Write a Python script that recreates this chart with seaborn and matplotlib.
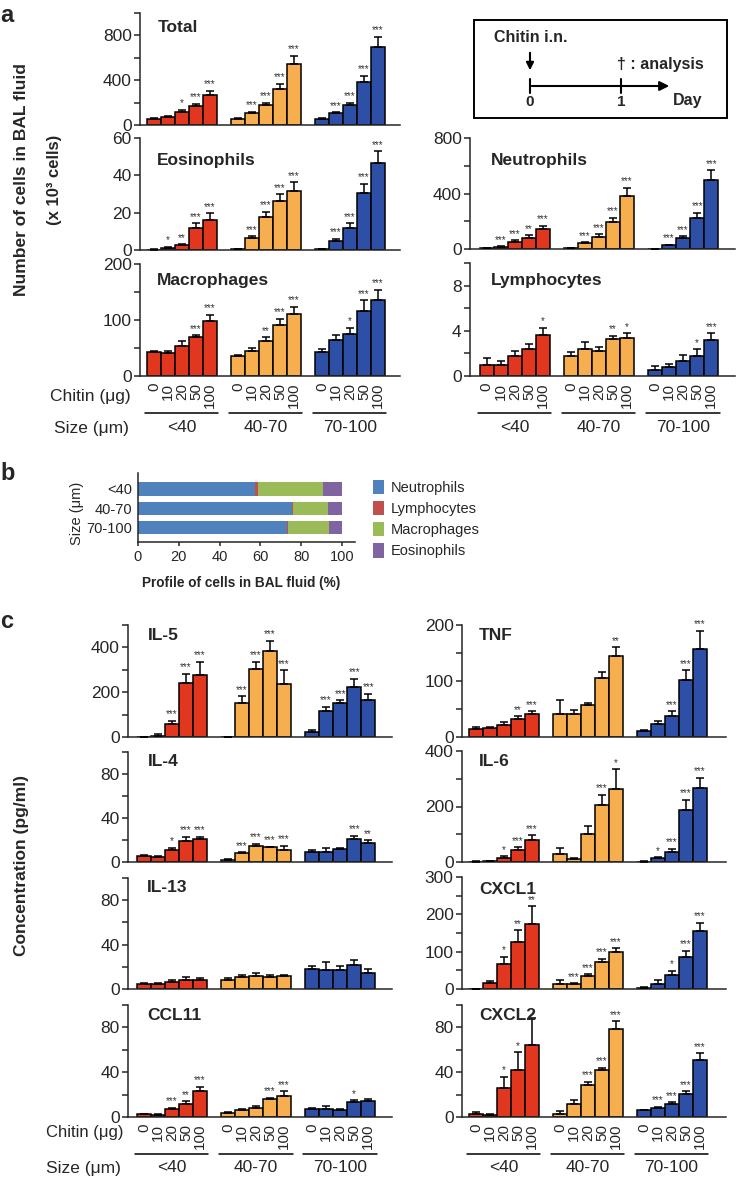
import numpy as np
import pandas as pd
import matplotlib
matplotlib.use("Agg")
import matplotlib.pyplot as plt
from matplotlib.patches import Patch, Rectangle
import seaborn as sns

sizes = ["<40", "40-70", "70-100"]
doses = ["0", "10", "20", "50", "100"]
size_colors = ["#E1371F", "#F6AE4E", "#2D4FA5"]

# ---- a: number of cells in BAL fluid (x 10^3), rows = size groups
total_mean = [[53, 74, 115, 172, 272], [56, 107, 178, 323, 542], [56, 104, 181, 382, 699]]
total_sem = [[6, 4, 22, 18, 34], [6, 11, 20, 47, 77], [9, 9, 17, 59, 89]]
total_sig = [["", "", "*", "***", "***"], ["", "***", "***", "***", "***"], ["", "***", "***", "***", "***"]]

eos_mean = [[0.2, 1.2, 2.5, 12, 16.3], [0.3, 6.5, 17.6, 26, 31.5], [0.3, 5, 11.8, 30.5, 46.8]]
eos_sem = [[0.1, 0.6, 0.7, 2.3, 3.4], [0.1, 1.0, 3.0, 3.9, 4.9], [0.1, 1.0, 2.5, 5.0, 6.2]]
eos_sig = [["", "*", "**", "***", "***"], ["", "***", "***", "***", "***"], ["", "***", "***", "***", "***"]]

mac_mean = [[42, 41, 54, 69, 98], [36, 44, 62, 91, 110], [42, 65, 75, 116, 136]]
mac_sem = [[3, 4, 9, 4, 11], [2, 6, 7, 11, 14], [6, 9, 11, 19, 18]]
mac_sig = [["", "", "", "***", "***"], ["", "", "**", "***", "***"], ["", "", "*", "***", "***"]]

neu_mean = [[7, 16, 47, 82, 147], [5, 44, 86, 196, 380], [2, 28, 82, 221, 496]]
neu_sem = [[2, 3, 18, 16, 21], [2, 5, 19, 28, 63], [1, 4, 9, 42, 70]]
neu_sig = [["", "***", "***", "**", "***"], ["", "***", "***", "***", "***"], ["", "***", "***", "***", "***"]]

lym_mean = [[0.95, 0.95, 1.76, 2.35, 3.63], [1.79, 2.35, 2.23, 3.24, 3.33], [0.57, 0.8, 1.34, 1.79, 3.15]]
lym_sem = [[0.6, 0.4, 0.47, 0.45, 0.66], [0.35, 0.69, 0.36, 0.33, 0.45], [0.29, 0.3, 0.51, 0.56, 0.63]]
lym_sig = [["", "", "", "", "*"], ["", "", "", "**", "*"], ["", "", "", "*", "***"]]

# ---- b: profile of cells (%)
cell_types = ["Neutrophils", "Lymphocytes", "Macrophages", "Eosinophils"]
cell_colors = ["#4F81BD", "#C0504D", "#9BBB59", "#8064A2"]
neu_pct = [57.4, 75.3, 73.2]
lym_pct = [1.3, 0.5, 0.5]
mac_pct = [32.1, 17.5, 19.9]
eos_pct = [9.2, 6.7, 6.4]

# ---- c: concentration (pg/ml)
il5_mean = [[0, 6, 60, 243, 276], [0, 154, 303, 385, 237], [22, 117, 151, 225, 165]]
il5_sem = [[0, 9, 12, 39, 60], [0, 29, 34, 45, 60], [11, 18, 12, 36, 28]]
il5_sig = [["", "", "***", "***", "***"], ["", "***", "***", "***", "***"], ["", "***", "***", "***", "***"]]

il4_mean = [[5.1, 4.5, 10.5, 19.2, 20.7], [2, 8, 15, 13.5, 11], [9, 9, 11.7, 20.7, 17.7]]
il4_sem = [[0.9, 1.2, 2.5, 3.8, 2.3], [0.5, 1.0, 1.5, 0.5, 3.7], [1.5, 3.6, 0.6, 3.3, 2.3]]
il4_sig = [["", "", "*", "***", "***"], ["", "***", "***", "***", "***"], ["", "", "", "***", "**"]]

il13_mean = [[4.5, 4.5, 6.3, 8.4, 8.4], [7.8, 10.7, 12, 10.7, 11.3], [18.2, 17.3, 17.3, 22, 14.3]]
il13_sem = [[1.2, 0.9, 1.5, 2.3, 1.5], [1.8, 2.1, 2.3, 2.1, 0.9], [2.8, 6.7, 3.7, 4, 3.7]]
il13_sig = [["", "", "", "", ""], ["", "", "", "", ""], ["", "", "", "", ""]]

ccl11_mean = [[2.4, 2.1, 7.2, 11.3, 23], [3.6, 6, 8.4, 15.8, 18.8], [7.2, 6.9, 6.6, 13.1, 14]]
ccl11_sem = [[0.5, 0.5, 1.2, 3, 3.9], [0.9, 1.5, 1.5, 1.5, 4.2], [0.8, 2.7, 0.9, 1.8, 2.4]]
ccl11_sig = [["", "", "***", "**", "***"], ["", "", "", "***", "***"], ["", "", "", "*", ""]]

tnf_mean = [[15, 16, 22, 32, 41], [41, 41, 57, 105, 144], [10, 23, 38, 102, 158]]
tnf_sem = [[3, 2.5, 5, 5, 5], [25, 7, 4, 11, 16], [2, 6, 8, 17, 32]]
tnf_sig = [["", "", "", "**", "***"], ["", "", "", "", "**"], ["", "", "***", "***", "***"]]

il6_mean = [[1, 2, 16, 44, 80], [29, 11, 101, 206, 262], [1, 14, 36, 188, 266]]
il6_sem = [[1, 2, 4, 9, 16], [21, 3, 29, 36, 73], [1, 4, 11, 36, 38]]
il6_sig = [["", "", "*", "***", "***"], ["", "", "", "***", "*"], ["", "*", "***", "***", "***"]]

cxcl1_mean = [[1, 16, 67, 126, 175], [14, 14, 34, 73, 99], [3, 13, 38, 87, 156]]
cxcl1_sem = [[0, 6, 19, 32, 47], [9, 2, 6, 8, 10], [1.5, 12, 11, 16, 22]]
cxcl1_sig = [["", "", "*", "**", "**"], ["", "***", "***", "***", "***"], ["", "", "*", "***", "***"]]

cxcl2_mean = [[3, 1.5, 26, 42, 64], [3, 12, 29, 42, 79], [6, 8.4, 12, 20.3, 51]]
cxcl2_sem = [[1.2, 0.9, 10, 16, 24], [2.4, 3.5, 2.3, 1.9, 6.7], [0.6, 0.6, 1, 2.7, 5.7]]
cxcl2_sig = [["", "", "*", "*", ""], ["", "", "***", "***", "***"], ["", "***", "***", "***", "***"]]


sns.set_style("ticks")
plt.rcParams["font.family"] = ["Liberation Sans", "DejaVu Sans"]
plt.rcParams["axes.linewidth"] = 1.1

W, H = 736, 1180
fig = plt.figure(figsize=(W / 100, H / 100), dpi=100)

# overlay in pixel coordinates for labels and the schematic
ov = fig.add_axes([0, 0, 1, 1], zorder=5)
ov.set_xlim(0, W)
ov.set_ylim(H, 0)
ov.axis("off")


def px_axes(x0, y0, x1, y1):
    return fig.add_axes([x0 / W, 1 - y1 / H, (x1 - x0) / W, (y1 - y0) / H])


def bar_panel(box, xlim, mean, sem, sig, ymax, ystep, labelled, title, title_xy, doses_below=False):
    ax = px_axes(*box)
    rows = []
    for g, size in enumerate(sizes):
        for i in range(len(doses)):
            rows.append({"pos": g * 6 + i, "value": mean[g][i], "sem": sem[g][i],
                         "sig": sig[g][i], "size": size})
    df = pd.DataFrame(rows)
    sns.barplot(data=df, x="pos", y="value", hue="size", hue_order=sizes,
                palette=dict(zip(sizes, size_colors)), native_scale=True, dodge=False,
                width=1.0, saturation=1, errorbar=None, edgecolor="black",
                linewidth=1.1, legend=False, ax=ax)
    ax.errorbar(df["pos"], df["value"], yerr=[np.zeros(len(df)), df["sem"]], fmt="none",
                ecolor="black", elinewidth=1.1, capsize=3, capthick=1.1, zorder=3)
    for _, r in df.iterrows():
        if r["sig"]:
            ax.annotate(r["sig"], (r["pos"], r["value"] + r["sem"]), xytext=(0, 1),
                        textcoords="offset points", ha="center", va="bottom",
                        fontsize=7, color="#333333")
    ax.set_xlim(*xlim)
    ax.set_ylim(0, ymax)
    ticks = np.arange(0, ymax + ystep / 2, ystep)
    ax.set_yticks(ticks)
    ax.set_yticklabels([f"{t:g}" if t in labelled else "" for t in ticks], fontsize=12.5)
    ax.tick_params(axis="y", length=4, width=1.1, pad=2)
    if doses_below:
        ax.set_xticks(df["pos"])
        ax.set_xticklabels(doses * 3, rotation=90, fontsize=11)
        ax.tick_params(axis="x", length=0, pad=5)
    else:
        ax.set_xticks([])
    ax.set_xlabel("")
    ax.set_ylabel("")
    sns.despine(ax=ax)
    ov.text(title_xy[0], title_xy[1], title, fontsize=12.5, fontweight="bold", ha="left", va="center")
    return ax


def group_labels(box, xlim, line_y, text_y):
    scale = (box[2] - box[0]) / (xlim[1] - xlim[0])
    for g, size in enumerate(sizes):
        xa = box[0] + (g * 6 - 0.65 - xlim[0]) * scale
        xb = box[0] + (g * 6 + 4.6 - xlim[0]) * scale
        ov.plot([xa, xb], [line_y, line_y], color="black", lw=1.1)
        ov.text((xa + xb) / 2, text_y, size, fontsize=12.5, ha="center", va="center")


# ---------------- panel a
xl_aL = (-1.0, 17.57)
xl_aR = (-1.2, 17.7)
bar_panel((140, 13, 400, 125), xl_aL, total_mean, total_sem, total_sig, 1000, 200, [0, 400, 800], "Total", (158, 27))
bar_panel((140, 138, 400, 250), xl_aL, eos_mean, eos_sem, eos_sig, 60, 20, [0, 20, 40, 60], "Eosinophils", (157, 160))
bar_panel((140, 264, 400, 376), xl_aL, mac_mean, mac_sem, mac_sig, 200, 50, [0, 100, 200], "Macrophages", (157, 280), True)
bar_panel((470, 138, 735, 249), xl_aR, neu_mean, neu_sem, neu_sig, 800, 200, [0, 400, 800], "Neutrophils", (491, 160))
bar_panel((470, 263, 735, 376), xl_aR, lym_mean, lym_sem, lym_sig, 10, 2, [0, 4, 8], "Lymphocytes", (491, 281), True)
group_labels((140, 264, 400, 376), xl_aL, 413, 428)
group_labels((470, 263, 735, 376), xl_aR, 413, 428)
ov.text(131, 397, "Chitin (\u03bcg)", fontsize=12.5, ha="right", va="center")
ov.text(129, 428, "Size (\u03bcm)", fontsize=12.5, ha="right", va="center")
ov.text(22, 180, "Number of cells in BAL fluid", fontsize=12.5, fontweight="bold",
        rotation=90, ha="center", va="center")
ov.text(54, 180, "(x 10\u00b3 cells)", fontsize=12, fontweight="bold",
        rotation=90, ha="center", va="center")

# schematic
ov.add_patch(Rectangle((474, 20), 253, 98, fill=False, lw=1.4, ec="black"))
ov.text(494, 38, "Chitin i.n.", fontsize=11.5, fontweight="bold", ha="left", va="center")
ov.annotate("", xy=(530, 73), xytext=(530, 50),
            arrowprops=dict(arrowstyle="-|>", lw=1.5, color="black", mutation_scale=11))
ov.annotate("", xy=(672, 86), xytext=(529, 86),
            arrowprops=dict(arrowstyle="-|>", lw=1.5, color="black", mutation_scale=14))
ov.plot([530, 530], [79, 93], color="black", lw=1.5)
ov.plot([621, 621], [79, 93], color="black", lw=1.5)
ov.text(530, 102, "0", fontsize=11, fontweight="bold", ha="center", va="center")
ov.text(621, 102, "1", fontsize=11, fontweight="bold", ha="center", va="center")
ov.text(688, 101, "Day", fontsize=11.5, fontweight="bold", ha="center", va="center")
ov.text(617, 65, "\u2020 : analysis", fontsize=11.5, fontweight="bold", ha="left", va="center")

# ---------------- panel b
ax_b = px_axes(138, 473, 355, 542)
cum = np.cumsum([neu_pct, lym_pct, mac_pct, eos_pct], axis=0)
for k in reversed(range(len(cell_types))):
    dfb = pd.DataFrame({"size": sizes, "pct": cum[k]})
    sns.barplot(data=dfb, x="pct", y="size", order=sizes, orient="h", color=cell_colors[k],
                saturation=1, width=0.7, errorbar=None, linewidth=0, ax=ax_b)
ax_b.set_xlim(0, 106.4)
ax_b.set_ylim(2.75, -0.83)
ax_b.set_xticks(np.arange(0, 101, 20))
ax_b.set_xticklabels([f"{v}" for v in range(0, 101, 20)], fontsize=10.5)
ax_b.set_yticks(range(3))
ax_b.set_yticklabels(sizes, fontsize=10.5)
ax_b.tick_params(axis="y", length=0, pad=4)
ax_b.tick_params(axis="x", length=3, width=1.1, pad=3)
ax_b.set_xlabel("")
ax_b.set_ylabel("")
sns.despine(ax=ax_b)
ov.text(241, 583, "Profile of cells in BAL fluid (%)", fontsize=9.8, fontweight="bold",
        ha="center", va="center")
ov.text(77, 513, "Size (\u03bcm)", fontsize=10.5, rotation=90, ha="center", va="center")
handles = [Patch(facecolor=c, edgecolor="none") for c in cell_colors]
fig.legend(handles, cell_types, loc="upper left", bbox_to_anchor=(373 / W, 1 - 480 / H),
           frameon=False, borderpad=0, borderaxespad=0, handlelength=0.75, handleheight=1.15,
           handletextpad=0.5, labelspacing=0.4, prop={"size": 10.5})

# ---------------- panel c
xl_cL = (-1.14, 17.7)
xl_cR = (-1.0, 17.86)
bar_panel((128, 625, 392, 737), xl_cL, il5_mean, il5_sem, il5_sig, 500, 100, [0, 200, 400], "IL-5", (148, 635))
bar_panel((128, 752, 392, 862), xl_cL, il4_mean, il4_sem, il4_sig, 100, 20, [0, 40, 80], "IL-4", (148, 762))
bar_panel((128, 878, 392, 989), xl_cL, il13_mean, il13_sem, il13_sig, 100, 20, [0, 40, 80], "IL-13", (147, 888))
bar_panel((128, 1005, 392, 1117), xl_cL, ccl11_mean, ccl11_sem, ccl11_sig, 100, 20, [0, 40, 80], "CCL11", (147, 1016), True)
bar_panel((462, 625, 726, 737), xl_cR, tnf_mean, tnf_sem, tnf_sig, 200, 50, [0, 100, 200], "TNF", (479, 635))
bar_panel((462, 751, 726, 862), xl_cR, il6_mean, il6_sem, il6_sig, 400, 100, [0, 200, 400], "IL-6", (479, 762))
bar_panel((462, 877, 726, 989), xl_cR, cxcl1_mean, cxcl1_sem, cxcl1_sig, 300, 50, [0, 100, 200, 300], "CXCL1", (479, 889))
bar_panel((462, 1005, 726, 1117), xl_cR, cxcl2_mean, cxcl2_sem, cxcl2_sig, 100, 20, [0, 40, 80], "CXCL2", (479, 1015), True)
group_labels((128, 1005, 392, 1117), xl_cL, 1154, 1168)
group_labels((462, 1005, 726, 1117), xl_cR, 1154, 1168)
ov.text(124, 1132, "Chitin (\u03bcg)", fontsize=12, ha="right", va="center")
ov.text(121, 1168, "Size (\u03bcm)", fontsize=12.5, ha="right", va="center")
ov.text(22, 865, "Concentration (pg/ml)", fontsize=12.5, fontweight="bold",
        rotation=90, ha="center", va="center")

# panel letters
ov.text(0, 15, "a", fontsize=17, fontweight="bold", ha="left", va="center")
ov.text(0, 473, "b", fontsize=17, fontweight="bold", ha="left", va="center")
ov.text(0, 622, "c", fontsize=17, fontweight="bold", ha="left", va="center")

fig.savefig("out.png", dpi=100)
